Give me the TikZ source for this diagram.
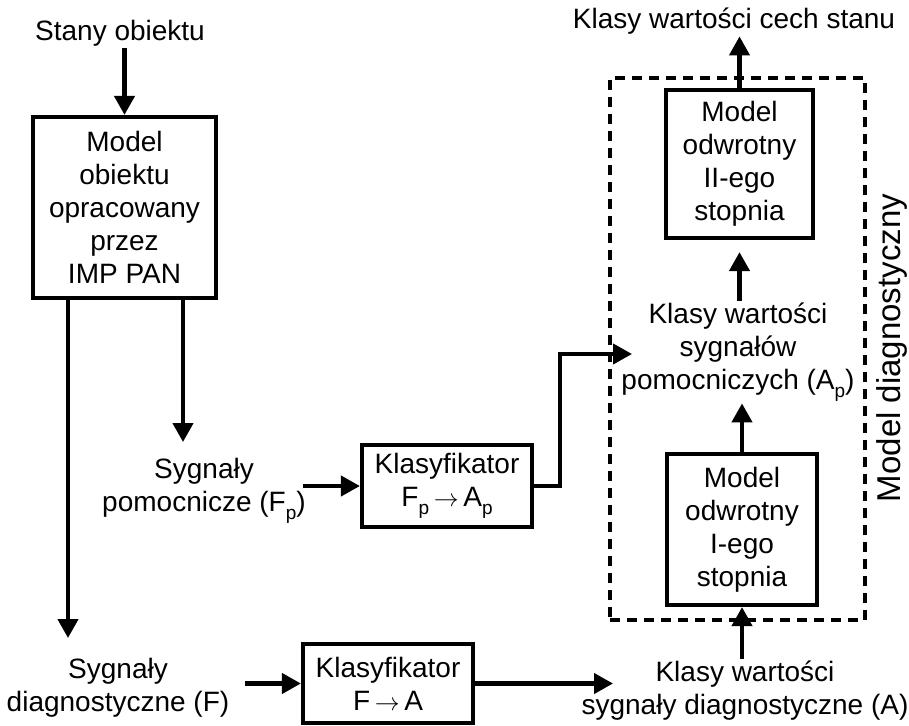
\documentclass[tikz,border=0pt]{standalone}
\usepackage{fontspec}
\setmainfont{Liberation Sans}
\usetikzlibrary{arrows.meta}
\newcommand{\lowsub}[1]{\raisebox{-0.28em}{\fontsize{19}{19}\selectfont #1}}
\begin{document}
\begin{tikzpicture}[x=1pt,y=-1pt,
  txt/.style={inner sep=2pt,align=center,font=\fontsize{28}{33}\selectfont},
  blk/.style={draw,line width=4.2pt,inner sep=2pt,align=center,font=\fontsize{28}{33}\selectfont},
  dbox/.style={draw,line width=3.5pt,dash pattern=on 10pt off 7pt},
  arr/.style={line width=4.2pt,-{Triangle[length=19pt,width=20pt]}}]
\useasboundingbox (0,0) rectangle (909,725);
% dashed frame
\node[dbox,minimum width=255pt,minimum height=542pt] (dm) at (737.5,349) {};
\node[rotate=90,inner sep=0pt,font=\fontsize{33}{38}\selectfont] (dlab) at (892,348) {Model diagnostyczny};
% nodes
\node[txt] (stany) at (120,33) {Stany obiektu};
\node[blk,minimum width=183pt,minimum height=181pt] (mobj) at (124.5,207.5) {Model\\obiektu\\opracowany\\przez\\IMP PAN};
\node[txt] (sygp) at (204,491) {Sygnały\\pomocnicze (F\lowsub{p})};
\node[blk,minimum width=170pt,minimum height=82pt] (kfp) at (447,486) {Klasyfikator\\F\lowsub{p}\,$\rightarrow$\,A\lowsub{p}};
\node[txt] (sygd) at (118,688) {Sygnały\\diagnostyczne (F)};
\node[blk,minimum width=170pt,minimum height=79pt] (kfa) at (388,683.5) {Klasyfikator\\F\,$\rightarrow$\,A};
\node[txt] (bot) at (745,691) {Klasy wartości\\sygnały diagnostyczne (A)};
\node[blk,minimum width=150pt,minimum height=151pt] (m1) at (742,529.5) {Model\\odwrotny\\I-ego\\stopnia};
\node[txt] (mid) at (738,352) {Klasy wartości\\sygnałów\\pomocniczych (A\lowsub{p})};
\node[blk,minimum width=147pt,minimum height=148pt] (m2) at (739.5,164) {Model\\odwrotny\\II-ego\\stopnia};
\node[txt] (top) at (734,21) {Klasy wartości cech stanu};
% free ends
\coordinate (dtip) at (68,638);
\coordinate (ptip) at (183,442);
\coordinate (apin) at (632,354);
\coordinate (ain) at (613,683.5);
% connectors
\draw[arr] (mobj.north |- stany.south) -- (mobj.north);
\draw[arr] (mobj.south -| dtip) -- (dtip);
\draw[arr] (mobj.south -| ptip) -- (ptip);
\draw[arr] ([xshift=-57pt]kfp.west) -- (kfp.west);
\draw[arr] (kfp.east) -- ++(26,0) |- (apin);
\draw[arr] ([xshift=-56pt]kfa.west) -- (kfa.west);
\draw[arr] (kfa.east) -- (ain);
\draw[arr] (m1.south |- bot.north) -- (m1.south);
\draw[arr] (m1.north) -- (m1.north |- mid.south);
\draw[arr,shorten >=12pt] (m2.south |- mid.north) -- (m2.south);
\draw[arr] (m2.north) -- (m2.north |- top.south);
\end{tikzpicture}
\end{document}
